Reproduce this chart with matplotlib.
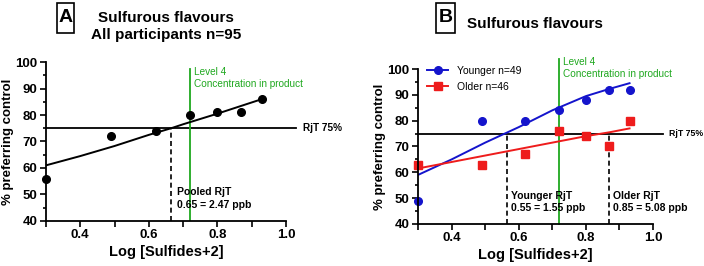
import numpy as np
import matplotlib
matplotlib.use("Agg")
import matplotlib.pyplot as plt
import matplotlib.transforms as mtransforms
from matplotlib.ticker import MultipleLocator, FixedLocator
from matplotlib.patches import Rectangle

plt.rcParams['font.family'] = ['Liberation Sans', 'DejaVu Sans']

# concentrations (log scale) used in both panels
logconc = [0.30, 0.49, 0.62, 0.72, 0.80, 0.87, 0.93]

# panel A: all participants
pooled = [56, 72, 74, 80, 81, 81, 86]
fit_x = [0.30, 0.40, 0.50, 0.60, 0.665, 0.70, 0.80, 0.93]
pooled_fit = [61, 64.5, 68.3, 72.5, 75, 76.5, 80.5, 86]

# panel B: younger / older
younger = [49, 80, 80, 84, 88, 92, 92]
older = [63, 63, 67, 76, 74, 70, 80]
fit_x_b = [0.30, 0.40, 0.50, 0.60, 0.70, 0.80, 0.87, 0.93]
younger_fit = [59, 65, 71.5, 77.5, 84, 89.5, 92.3, 94.5]
older_fit = [61.5, 64, 66.5, 69, 71.5, 74, 75.5, 77]

rjt_pooled = 0.665
rjt_younger = 0.565
rjt_older = 0.87
level4 = 0.72

green = '#1fa81f'
blue = '#1414cc'
red = '#ee1c1c'

fig = plt.figure(figsize=(7.04, 2.66), dpi=100)
axA = fig.add_axes([0.0653, 0.1692, 0.3409, 0.5977])
axB = fig.add_axes([0.5938, 0.1579, 0.3338, 0.5827])


def style(ax):
    ax.set_xlim(0.3, 1.0)
    ax.set_ylim(40, 100)
    ax.spines['top'].set_visible(False)
    ax.spines['right'].set_visible(False)
    ax.spines['left'].set_linewidth(1.3)
    ax.spines['bottom'].set_linewidth(1.3)
    ax.xaxis.set_major_locator(FixedLocator([0.4, 0.6, 0.8, 1.0]))
    ax.xaxis.set_minor_locator(FixedLocator([0.3, 0.5, 0.7, 0.9]))
    ax.yaxis.set_major_locator(MultipleLocator(10))
    ax.yaxis.set_minor_locator(MultipleLocator(5))
    ax.tick_params(which='both', width=1.2, labelsize=9.5, pad=2)
    ax.tick_params(which='major', length=4)
    ax.tick_params(axis='x', which='minor', length=4)
    ax.tick_params(axis='y', which='minor', length=2.5)
    for lab in ax.get_yticklabels():
        lab.set_fontweight('bold')
    ax.set_xticklabels(['0.4', '0.6', '0.8', '1.0'], fontweight='bold')
    ax.set_xlabel('Log [Sulfides+2]', fontsize=10.5, fontweight='bold', labelpad=3)
    ax.set_ylabel('% preferring control', fontsize=9.5, fontweight='bold', labelpad=1)


def panel_box(x0, x1, letter):
    # box in pixel coordinates converted to figure fraction
    fig.patches.append(Rectangle((x0 / 704, 1 - 33 / 266), (x1 - x0) / 704, 30 / 266,
                                 transform=fig.transFigure, fc='white', ec='black',
                                 lw=1.2))
    fig.text((x0 + x1) / 2 / 704, 1 - 17 / 266, letter, fontsize=14,
             fontweight='bold', ha='center', va='center')


# ---- panel A ----
style(axA)
axA.plot([0.3, 1.03], [75, 75], color='black', lw=1.3, clip_on=False)
axA.text(1.05, 75, 'RjT 75%', fontsize=7.2, fontweight='bold', va='center')
axA.plot([level4, level4], [40, 97.5], color=green, lw=1.3)
axA.text(0.732, 98.3, 'Level 4\nConcentration in product', color=green,
         fontsize=7.2, va='top', linespacing=1.25)
axA.plot([rjt_pooled, rjt_pooled], [40, 75], color='black', lw=1.2, ls=(0, (3, 2)))
axA.text(0.682, 48.6, 'Pooled RjT\n0.65 = 2.47 ppb', fontsize=7.5,
         fontweight='bold', va='center', linespacing=1.35)
axA.plot(fit_x, pooled_fit, color='black', lw=1.4)
axA.plot(logconc, pooled, 'o', color='black', ms=5.5, clip_on=False)

panel_box(57, 74, 'A')
fig.text(0.236, 0.90, 'Sulfurous flavours\nAll participants n=95', fontsize=11,
         fontweight='bold', ha='center', va='center', linespacing=1.2)

# ---- panel B ----
style(axB)
axB.plot([0.3, 1.03], [75, 75], color='black', lw=1.3, clip_on=False)
trB = mtransforms.blended_transform_factory(fig.transFigure, axB.transData)
axB.text(703 / 704, 75, 'RjT 75%', fontsize=6.3, fontweight='bold', va='center',
         ha='right', transform=trB)
axB.plot([level4, level4], [40, 104], color=green, lw=1.3, clip_on=False)
axB.text(0.732, 104.5, 'Level 4\nConcentration in product', color=green,
         fontsize=7.2, va='top', linespacing=1.25)
axB.plot([rjt_younger, rjt_younger], [40, 75], color='black', lw=1.2, ls=(0, (3, 2)))
axB.plot([rjt_older, rjt_older], [40, 75], color='black', lw=1.2, ls=(0, (3, 2)))
axB.text(0.577, 48.5, 'Younger RjT\n0.55 = 1.55 ppb', fontsize=7.5,
         fontweight='bold', va='center', linespacing=1.35)
axB.text(0.881, 48.5, 'Older RjT\n0.85 = 5.08 ppb', fontsize=7.5,
         fontweight='bold', va='center', linespacing=1.35)
axB.plot(fit_x_b, younger_fit, color=blue, lw=1.4)
axB.plot(fit_x_b, older_fit, color=red, lw=1.4)
axB.plot(logconc, younger, 'o', color=blue, ms=5.5, clip_on=False)
axB.plot(logconc, older, 's', color=red, ms=5.5, clip_on=False)

h1, = axB.plot([], [], 'o-', color=blue, ms=5.5, lw=1.4)
h2, = axB.plot([], [], 's-', color=red, ms=5.5, lw=1.4)
axB.legend([h1, h2], ['Younger n=49', 'Older n=46'], loc='upper left',
           bbox_to_anchor=(0.0, 1.08), frameon=False, fontsize=7.5,
           handlelength=2.0, labelspacing=0.55)

panel_box(436, 455, 'B')
fig.text(0.760, 0.91, 'Sulfurous flavours', fontsize=11,
         fontweight='bold', ha='center', va='center')

fig.savefig('out.png', dpi=100)
